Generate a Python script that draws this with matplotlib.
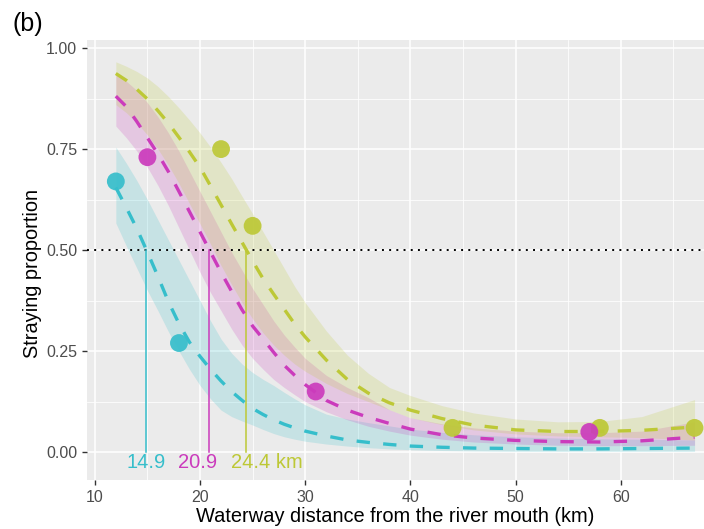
import numpy as np
import matplotlib
matplotlib.use("Agg")
import matplotlib.pyplot as plt
from matplotlib.ticker import MultipleLocator

plt.rcParams['font.family'] = ['Liberation Sans', 'DejaVu Sans']

# colours of the three groups
cols = {"cyan": "#36BECB", "magenta": "#CB3BBC", "yellow": "#BDC836"}

# observed proportions
obs_x = {"cyan": [12, 18],
         "magenta": [15, 31, 57],
         "yellow": [22, 25, 44, 58, 67]}
obs_y = {"cyan": [0.67, 0.27],
         "magenta": [0.73, 0.15, 0.05],
         "yellow": [0.75, 0.56, 0.06, 0.06, 0.06]}

# fitted curves and confidence bands
fit_x = [12, 13, 14, 15, 16, 17, 18, 19, 20, 21, 22, 23, 24, 25, 26, 27, 28, 29, 30,
         32, 34, 36, 38, 40, 43, 46, 50, 54, 58, 62, 67]

fit = {
    "cyan": [0.655, 0.605, 0.553, 0.495, 0.435, 0.372, 0.318, 0.272, 0.237, 0.205, 0.176,
             0.150, 0.128, 0.108, 0.093, 0.080, 0.069, 0.060, 0.052, 0.040, 0.030, 0.024,
             0.019, 0.015, 0.012, 0.010, 0.009, 0.008, 0.008, 0.009, 0.010],
    "magenta": [0.881, 0.855, 0.818, 0.778, 0.738, 0.694, 0.645, 0.595, 0.545, 0.495, 0.445,
                0.398, 0.352, 0.312, 0.280, 0.247, 0.215, 0.190, 0.167, 0.128, 0.104, 0.086,
                0.071, 0.057, 0.043, 0.035, 0.029, 0.026, 0.025, 0.028, 0.037],
    "yellow": [0.937, 0.920, 0.898, 0.874, 0.845, 0.814, 0.779, 0.743, 0.705, 0.659, 0.612,
               0.565, 0.519, 0.473, 0.429, 0.391, 0.354, 0.317, 0.285, 0.228, 0.180, 0.146,
               0.122, 0.104, 0.083, 0.067, 0.055, 0.051, 0.051, 0.054, 0.062],
}
lo = {
    "cyan": [0.567, 0.510, 0.455, 0.400, 0.350, 0.298, 0.250, 0.205, 0.165, 0.132, 0.104,
             0.088, 0.077, 0.067, 0.056, 0.046, 0.038, 0.032, 0.027, 0.020, 0.015, 0.011,
             0.008, 0.006, 0.004, 0.003, 0.002, 0.002, 0.002, 0.002, 0.002],
    "magenta": [0.807, 0.778, 0.745, 0.705, 0.660, 0.610, 0.555, 0.500, 0.445, 0.395, 0.350,
                0.305, 0.265, 0.232, 0.205, 0.180, 0.160, 0.142, 0.125, 0.100, 0.080, 0.064,
                0.052, 0.042, 0.032, 0.025, 0.020, 0.017, 0.016, 0.016, 0.017],
    "yellow": [0.860, 0.840, 0.815, 0.785, 0.750, 0.710, 0.665, 0.615, 0.565, 0.515, 0.462,
               0.415, 0.370, 0.330, 0.295, 0.265, 0.240, 0.218, 0.200, 0.170, 0.145, 0.125,
               0.105, 0.085, 0.068, 0.055, 0.045, 0.040, 0.038, 0.036, 0.030],
}
hi = {
    "cyan": [0.755, 0.715, 0.672, 0.625, 0.575, 0.525, 0.475, 0.425, 0.375, 0.325, 0.280,
             0.245, 0.218, 0.197, 0.180, 0.165, 0.148, 0.132, 0.117, 0.094, 0.082, 0.073,
             0.065, 0.057, 0.049, 0.043, 0.038, 0.035, 0.033, 0.032, 0.030],
    "magenta": [0.935, 0.918, 0.895, 0.865, 0.830, 0.790, 0.745, 0.695, 0.645, 0.595, 0.545,
                0.495, 0.450, 0.405, 0.365, 0.325, 0.290, 0.260, 0.232, 0.190, 0.160, 0.135,
                0.105, 0.085, 0.070, 0.060, 0.052, 0.048, 0.048, 0.052, 0.075],
    "yellow": [0.966, 0.955, 0.942, 0.926, 0.905, 0.880, 0.852, 0.822, 0.790, 0.755, 0.717,
               0.677, 0.633, 0.590, 0.545, 0.500, 0.455, 0.410, 0.370, 0.300, 0.240, 0.195,
               0.160, 0.140, 0.115, 0.097, 0.082, 0.075, 0.076, 0.088, 0.130],
}

# distance where each curve crosses 0.5
cross_x = {"cyan": 14.9, "magenta": 20.9, "yellow": 24.4}
cross_lab = {"cyan": "14.9", "magenta": "20.9", "yellow": "24.4 km"}
lab_x = {"cyan": 14.85, "magenta": 19.8, "yellow": 26.4}

fig = plt.figure(figsize=(7.04, 5.29), dpi=100)
ax = fig.add_axes([87 / 704, 49 / 529, 617 / 704, 440 / 529])
ax.set_facecolor("#EBEBEB")
for s in ax.spines.values():
    s.set_visible(False)

ax.set_xlim(9.26, 67.9)
ax.set_ylim(-0.069, 1.02)
ax.xaxis.set_major_locator(MultipleLocator(10))
ax.xaxis.set_minor_locator(MultipleLocator(5))
ax.yaxis.set_major_locator(MultipleLocator(0.25))
ax.yaxis.set_minor_locator(MultipleLocator(0.125))
ax.grid(which="major", color="white", lw=1.1)
ax.grid(which="minor", color="white", lw=0.55)
ax.set_axisbelow(True)
ax.yaxis.set_major_formatter(matplotlib.ticker.FormatStrFormatter("%.2f"))
ax.tick_params(which="major", length=3.5, width=1.0, color="#333333",
               labelcolor="#4D4D4D", labelsize=11.5)
ax.tick_params(which="minor", length=0)

groups = ["cyan", "magenta", "yellow"]
for g in groups:
    ax.fill_between(fit_x, lo[g], hi[g], color=cols[g], alpha=0.2, lw=0, zorder=2)

ax.axhline(0.5, color="black", lw=1.4, ls=(0, (1, 2.7)), zorder=3)

for g in groups:
    ax.plot([cross_x[g], cross_x[g]], [0.5, 0.0], color=cols[g], lw=1.1, zorder=3)
    ax.text(lab_x[g], -0.026, cross_lab[g], color=cols[g], fontsize=14.5,
            ha="center", va="center", zorder=5)

for g in groups:
    ax.plot(fit_x, fit[g], color=cols[g], lw=2.4, ls=(0, (4, 4)),
            dash_capstyle="butt", zorder=4)

for g in ["cyan", "yellow", "magenta"]:
    ax.scatter(obs_x[g], obs_y[g], s=165, color=cols[g], edgecolors="none",
               alpha=0.92, zorder=6)

ax.set_xlabel("Waterway distance from the river mouth (km)", fontsize=14.4, labelpad=2)
ax.set_ylabel("Straying proportion", fontsize=14.4)
ax.yaxis.set_label_coords(-0.073, 0.47)
fig.text(12 / 704, 1 - 24 / 529, "(b)", fontsize=18, va="center", ha="left")

fig.savefig("out.png", dpi=100)
